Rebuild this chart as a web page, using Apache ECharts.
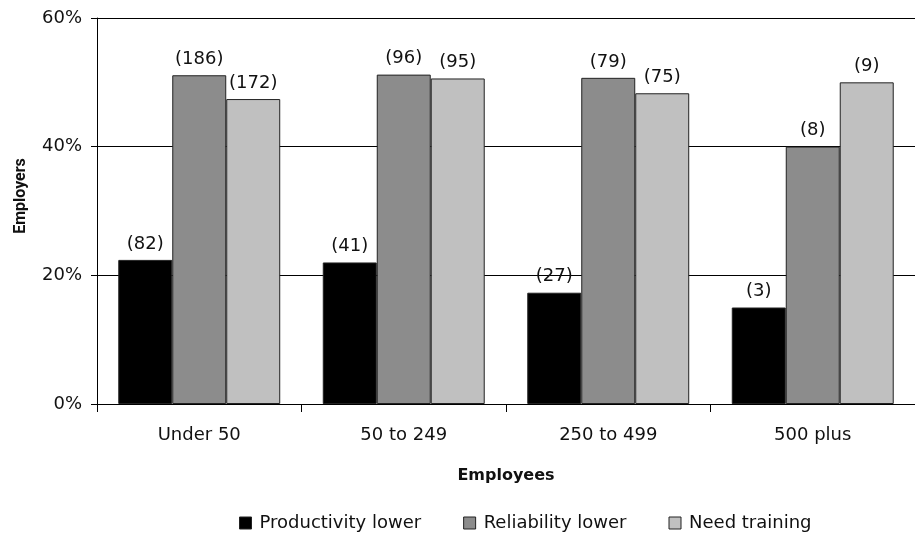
<!DOCTYPE html>
<html>
<head>
<meta charset="utf-8">
<script src="https://cdn.jsdelivr.net/npm/echarts@6/dist/echarts.min.js"></script>
<style>
  html, body { margin: 0; padding: 0; background: #fff; }
  #chart { width: 915px; height: 535px; }
</style>
</head>
<body>
<div id="chart"></div>
<script>
// Employer size bands
const categories = ['Under 50', '50 to 249', '250 to 499', '500 plus'];

// Share of employers (%) giving each answer
const productivityLower = [22.4, 22.0, 17.3, 15.0];
const reliabilityLower  = [51.1, 51.2, 50.7, 40.0];
const needTraining      = [47.4, 50.6, 48.3, 50.0];

// Number of employers behind each bar, shown in brackets
const productivityCount = [82, 41, 27, 3];
const reliabilityCount  = [186, 96, 79, 8];
const trainingCount     = [172, 95, 75, 9];

const yTicks = [0, 20, 40, 60];

const FONT = '"DejaVu Sans"';
const chart = echarts.init(document.getElementById('chart'), null, { renderer: 'canvas' });

function barSeries(name, values, counts, color) {
  return {
    name: name,
    type: 'bar',
    data: values,
    barGap: '0%',
    barCategoryGap: '20.8%',
    itemStyle: { color: color, borderColor: '#222', borderWidth: 1 },
    label: {
      show: true,
      position: 'top',
      distance: 7,
      color: '#111',
      fontFamily: FONT,
      fontSize: 18,
      formatter: p => '(' + counts[p.dataIndex] + ')'
    },
    emphasis: { disabled: true }
  };
}

chart.setOption({
  animation: false,
  backgroundColor: '#fff',
  grid: { left: 97, top: 18, width: 819, bottom: 131, containLabel: false },
  xAxis: {
    type: 'category',
    data: categories,
    axisLine: { lineStyle: { color: '#000', width: 1 } },
    axisTick: { show: true, length: 8, lineStyle: { color: '#000' } },
    axisLabel: { color: '#111', fontFamily: FONT, fontSize: 18, margin: 22 }
  },
  yAxis: {
    type: 'value',
    min: yTicks[0],
    max: yTicks[yTicks.length - 1],
    interval: yTicks[1] - yTicks[0],
    axisLine: { show: true, lineStyle: { color: '#000', width: 1 } },
    axisTick: { show: true, length: 6, lineStyle: { color: '#000' } },
    axisLabel: { color: '#111', fontFamily: FONT, fontSize: 18, margin: 15, formatter: '{value}%' },
    splitLine: { show: true, lineStyle: { color: '#000', width: 1 } }
  },
  legend: {
    top: 509,
    left: 234,
    itemWidth: 12,
    itemHeight: 12,
    itemGap: 42,
    icon: 'rect',
    textStyle: { color: '#111', fontFamily: FONT, fontSize: 18, padding: [0, 0, 0, 3] },
    itemStyle: { borderColor: '#222', borderWidth: 1 },
    data: ['Productivity lower', 'Reliability lower', 'Need training']
  },
  graphic: [
    {
      type: 'text',
      x: 21, y: 196,
      rotation: Math.PI / 2,
      style: {
        text: 'Employers',
        fill: '#111',
        font: 'bold 16px Roboto',
        textAlign: 'center',
        textVerticalAlign: 'middle'
      }
    },
    {
      type: 'text',
      x: 506, y: 476,
      style: {
        text: 'Employees',
        fill: '#111',
        font: 'bold 16px "DejaVu Sans"',
        textAlign: 'center',
        textVerticalAlign: 'middle'
      }
    }
  ],
  series: [
    barSeries('Productivity lower', productivityLower, productivityCount, '#000000'),
    barSeries('Reliability lower', reliabilityLower, reliabilityCount, '#8c8c8c'),
    barSeries('Need training', needTraining, trainingCount, '#c0c0c0')
  ]
});
</script>
</body>
</html>
